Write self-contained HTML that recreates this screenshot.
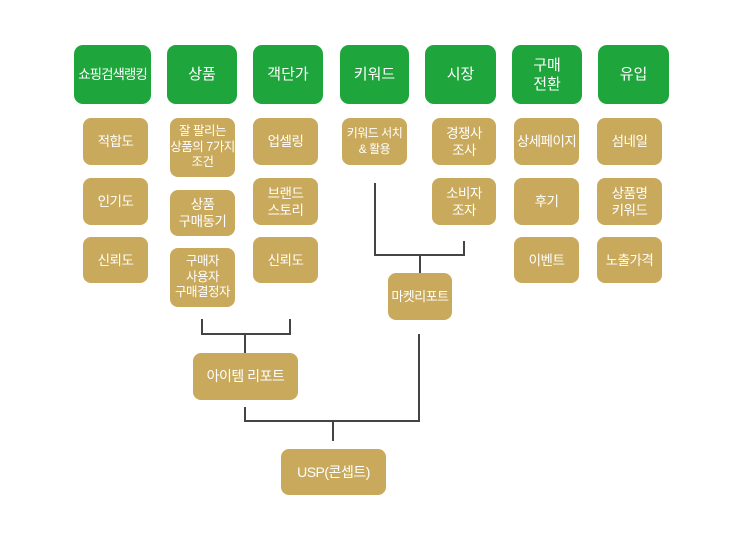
<!DOCTYPE html>
<html><head><meta charset="utf-8"><style>
body{margin:0;width:743px;height:533px;background:#fff;position:relative;overflow:hidden;font-family:"Liberation Sans","Noto Sans CJK KR",sans-serif;}
.b{position:absolute;display:flex;align-items:center;justify-content:center;text-align:center;color:#fff;box-sizing:border-box;}
.g{background:#1ea63c;border-radius:9px;font-size:15px;line-height:19px;top:45px;height:59px;}
.y{background:#c9a95b;border-radius:8px;font-size:13.5px;line-height:17px;letter-spacing:-0.5px;}
.l{position:absolute;background:#444;}
</style></head><body>
<div class="b g" style="left:74px;width:77px;font-size:13.5px;letter-spacing:-1px">쇼핑검색랭킹</div>
<div class="b g" style="left:167px;width:70px">상품</div>
<div class="b g" style="left:253px;width:70px">객단가</div>
<div class="b g" style="left:340px;width:69px">키워드</div>
<div class="b g" style="left:425px;width:71px">시장</div>
<div class="b g" style="left:512px;width:70px">구매<br>전환</div>
<div class="b g" style="left:598px;width:71px">유입</div>

<div class="b y" style="left:83px;top:118px;width:65px;height:47px">적합도</div>
<div class="b y" style="left:83px;top:178px;width:65px;height:47px">인기도</div>
<div class="b y" style="left:83px;top:237px;width:65px;height:46px">신뢰도</div>

<div class="b y" style="left:170px;top:118px;width:65px;height:59px;font-size:12.5px;line-height:15.5px">잘 팔리는<br>상품의 7가지<br>조건</div>
<div class="b y" style="left:170px;top:190px;width:65px;height:46px">상품<br>구매동기</div>
<div class="b y" style="left:170px;top:248px;width:65px;height:59px;font-size:12.5px;line-height:15.5px">구매자<br>사용자<br>구매결정자</div>

<div class="b y" style="left:253px;top:118px;width:65px;height:47px">업셀링</div>
<div class="b y" style="left:253px;top:178px;width:65px;height:47px">브랜드<br>스토리</div>
<div class="b y" style="left:253px;top:237px;width:65px;height:46px">신뢰도</div>

<div class="b y" style="left:342px;top:118px;width:65px;height:47px;font-size:12px;line-height:15.5px">키워드 서치<br>&amp; 활용</div>

<div class="b y" style="left:432px;top:118px;width:64px;height:47px">경쟁사<br>조사</div>
<div class="b y" style="left:432px;top:178px;width:64px;height:47px">소비자<br>조자</div>

<div class="b y" style="left:514px;top:118px;width:65px;height:47px">상세페이지</div>
<div class="b y" style="left:514px;top:178px;width:65px;height:47px">후기</div>
<div class="b y" style="left:514px;top:237px;width:65px;height:46px">이벤트</div>

<div class="b y" style="left:597px;top:118px;width:65px;height:47px">섬네일</div>
<div class="b y" style="left:597px;top:178px;width:65px;height:47px">상품명<br>키워드</div>
<div class="b y" style="left:597px;top:237px;width:65px;height:46px">노출가격</div>

<div class="b y" style="left:388px;top:273px;width:64px;height:47px;font-size:13px">마켓리포트</div>
<div class="b y" style="left:193px;top:353px;width:105px;height:47px;font-size:14px">아이템 리포트</div>
<div class="b y" style="left:281px;top:449px;width:105px;height:46px;font-size:14px">USP(콘셉트)</div>

<div class="l" style="left:374px;top:183px;width:2px;height:73px"></div>
<div class="l" style="left:374px;top:254px;width:91px;height:2px"></div>
<div class="l" style="left:463px;top:241px;width:2px;height:15px"></div>
<div class="l" style="left:419px;top:254px;width:2px;height:19px"></div>
<div class="l" style="left:201px;top:319px;width:2px;height:16px"></div>
<div class="l" style="left:289px;top:319px;width:2px;height:16px"></div>
<div class="l" style="left:201px;top:333px;width:90px;height:2px"></div>
<div class="l" style="left:244px;top:333px;width:2px;height:20px"></div>
<div class="l" style="left:244px;top:407px;width:2px;height:15px"></div>
<div class="l" style="left:244px;top:420px;width:176px;height:2px"></div>
<div class="l" style="left:418px;top:334px;width:2px;height:88px"></div>
<div class="l" style="left:332px;top:420px;width:2px;height:21px"></div>
</body></html>
